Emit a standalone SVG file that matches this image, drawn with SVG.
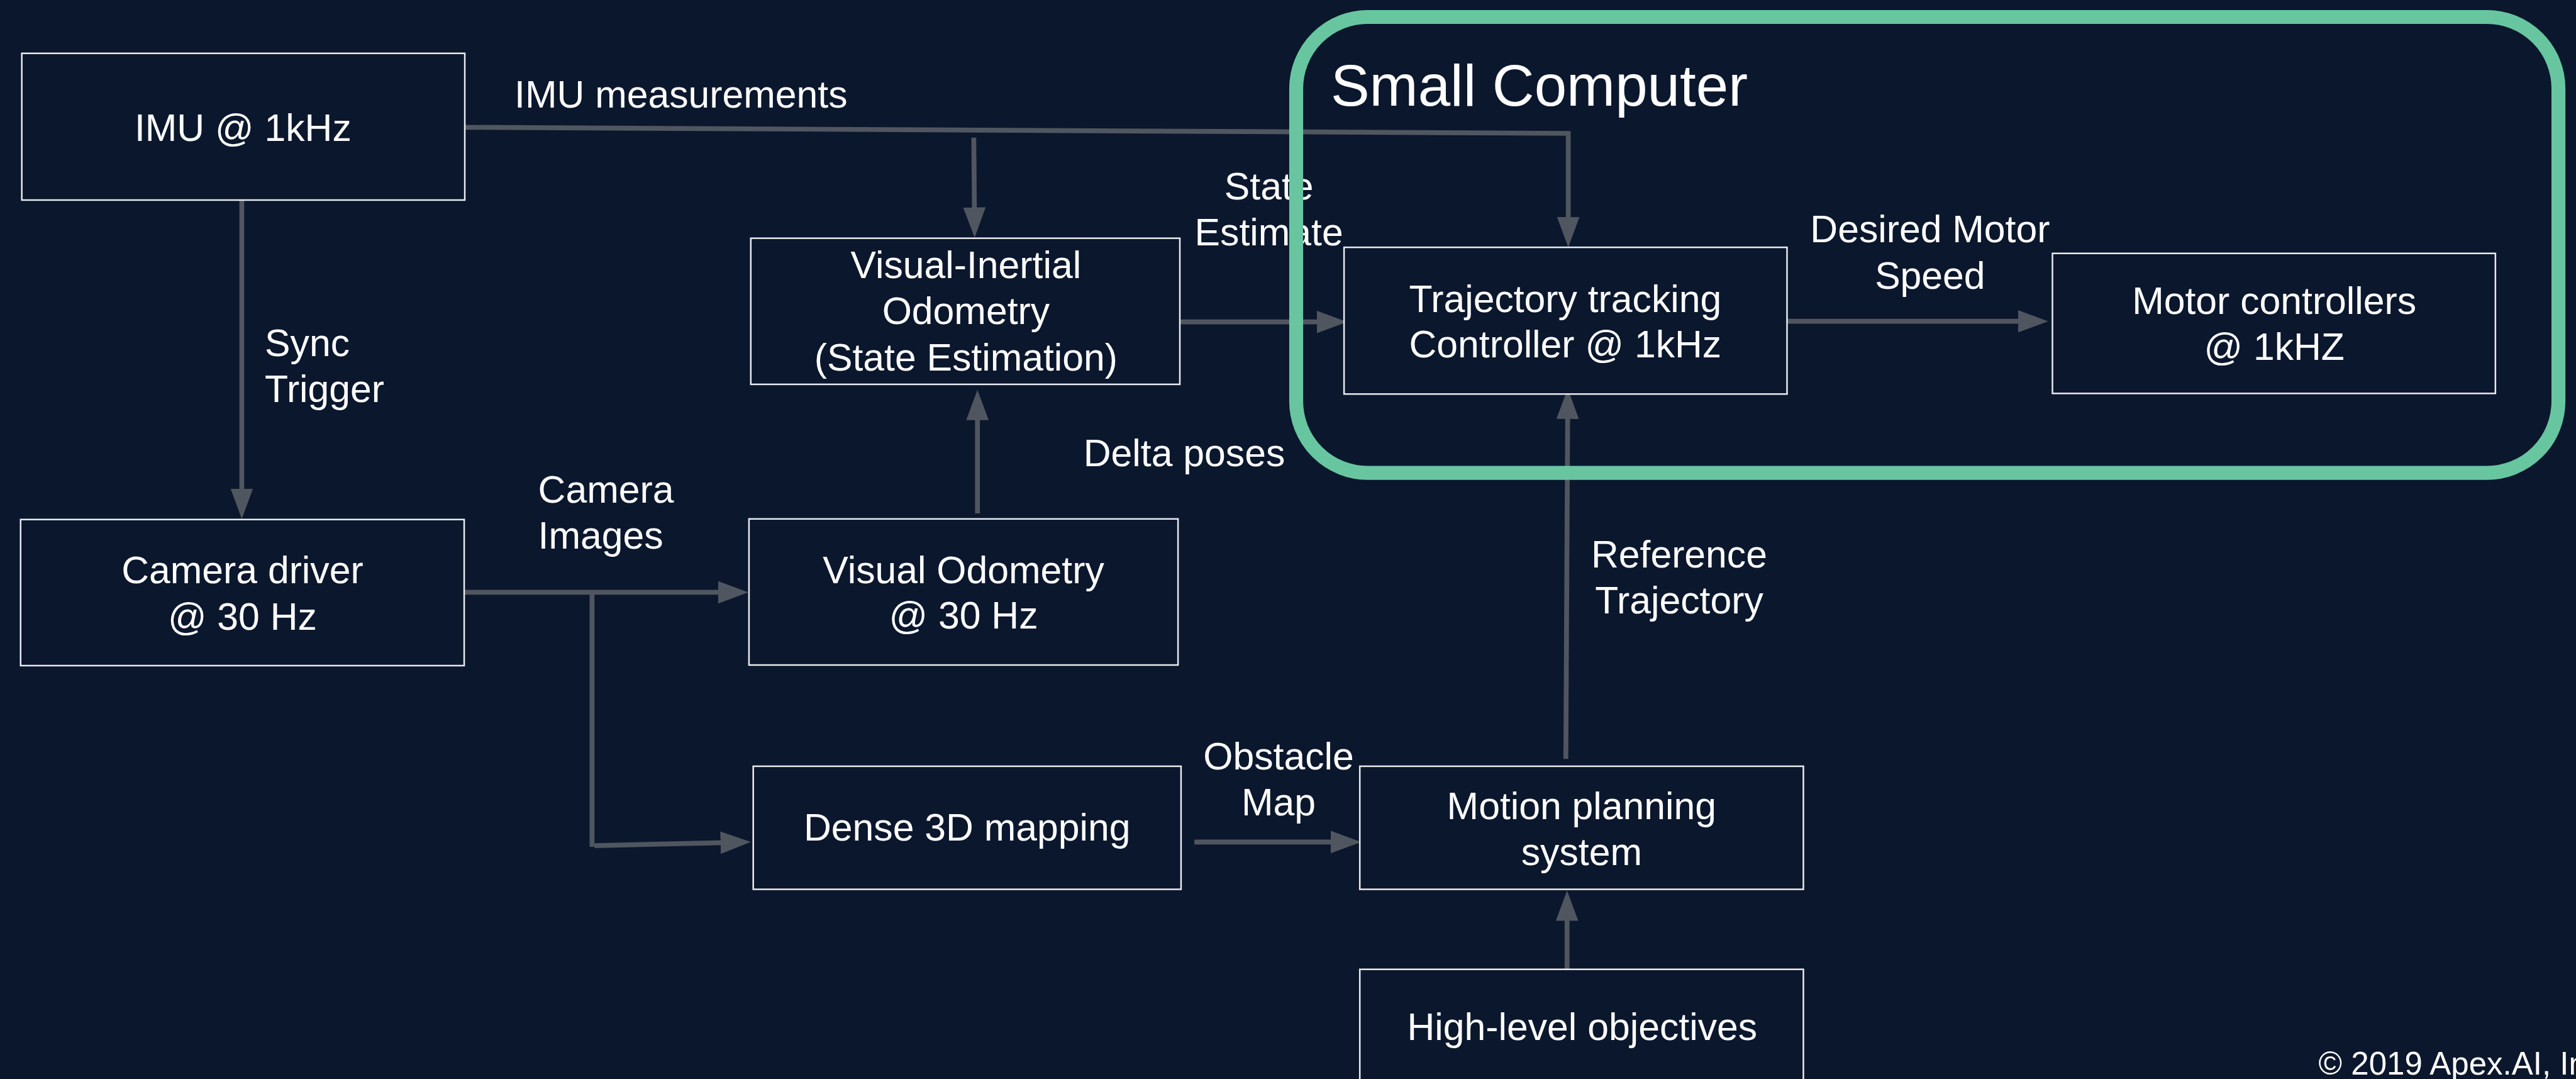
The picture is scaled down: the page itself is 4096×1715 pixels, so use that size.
<svg xmlns="http://www.w3.org/2000/svg" width="4096" height="1715" viewBox="0 0 4096 1715">
  <defs>
    <style>
      .box { fill: #0b172d; stroke: #e9ebee; stroke-width: 2.6; }
      .txt { font-family: "Liberation Sans", Arial, Helvetica, sans-serif; font-size: 63px; fill: #ffffff; }
      .mid { text-anchor: middle; }
      .wire { fill: none; stroke: #50565f; stroke-width: 8; }
      .arrow { marker-end: url(#head); }
      .group { fill: none; stroke: #67c6a0; stroke-width: 23; }
    </style>
    <marker id="head" markerUnits="userSpaceOnUse" markerWidth="50" markerHeight="38" viewBox="0 0 50 38" refX="5" refY="19" orient="auto">
      <path d="M0,0.5 L50,19 L0,37.5 Z" fill="#50565f"/>
    </marker>
  </defs>

  <rect x="0" y="0" width="4096" height="1715" fill="#0b172d"/>

  <g transform="scale(0.96354)">
    <!-- connectors -->
    <g id="connectors">
      <path class="wire arrow" d="M767,210 L2588,220 L2588,363"/>
      <path class="wire arrow" d="M1607,227 L1608,347"/>
      <path class="wire arrow" d="M399,330 L399,811"/>
      <path class="wire arrow" d="M766,977 L1190,977"/>
      <path class="wire" d="M977,977 L977,1397"/>
      <path class="wire arrow" d="M981,1395 L1194,1390"/>
      <path class="wire arrow" d="M1613,847 L1613,688"/>
      <path class="wire arrow" d="M1947,531 L2178,531"/>
      <path class="wire arrow" d="M2949,530 L3335,530"/>
      <path class="wire arrow" d="M1971,1389 L2201,1389"/>
      <path class="wire arrow" d="M2584,1252 L2587,686"/>
      <path class="wire arrow" d="M2586,1599 L2586,1514"/>
    </g>

    <!-- connector labels -->
    <g id="labels" class="txt">
      <text x="849" y="177">IMU measurements</text>
      <text x="437" y="587">Sync</text>
      <text x="437" y="663">Trigger</text>
      <text x="888" y="829">Camera</text>
      <text x="888" y="905">Images</text>
      <text class="mid" x="2094" y="329">State</text>
      <text class="mid" x="2094" y="405">Estimate</text>
      <text x="1788" y="769">Delta poses</text>
      <text class="mid" x="3185" y="400">Desired Motor</text>
      <text class="mid" x="3185" y="476">Speed</text>
      <text class="mid" x="2771" y="936">Reference</text>
      <text class="mid" x="2771" y="1012">Trajectory</text>
      <text class="mid" x="2110" y="1269">Obstacle</text>
      <text class="mid" x="2110" y="1345">Map</text>
    </g>

    <!-- nodes -->
    <g id="imu">
      <rect class="box" x="36" y="88" width="731" height="242"/>
      <text class="txt mid" x="401" y="232">IMU @ 1kHz</text>
    </g>
    <g id="camera-driver">
      <rect class="box" x="34" y="857" width="732" height="241"/>
      <text class="txt mid" x="400" y="962">Camera driver</text>
      <text class="txt mid" x="400" y="1039">@ 30 Hz</text>
    </g>
    <g id="visual-inertial-odometry">
      <rect class="box" x="1239" y="393" width="708" height="241"/>
      <text class="txt mid" x="1594" y="459">Visual-Inertial</text>
      <text class="txt mid" x="1594" y="535">Odometry</text>
      <text class="txt mid" x="1594" y="611">(State Estimation)</text>
    </g>
    <g id="visual-odometry">
      <rect class="box" x="1236" y="856" width="708" height="241"/>
      <text class="txt mid" x="1590" y="962">Visual Odometry</text>
      <text class="txt mid" x="1590" y="1037">@ 30 Hz</text>
    </g>
    <g id="dense-mapping">
      <rect class="box" x="1243" y="1264" width="706" height="203"/>
      <text class="txt mid" x="1596" y="1387">Dense 3D mapping</text>
    </g>
    <g id="trajectory-controller">
      <rect class="box" x="2218" y="408" width="731" height="242"/>
      <text class="txt mid" x="2583" y="515">Trajectory tracking</text>
      <text class="txt mid" x="2583" y="590">Controller @ 1kHz</text>
    </g>
    <g id="motor-controllers">
      <rect class="box" x="3387" y="418" width="731" height="231"/>
      <text class="txt mid" x="3753" y="518">Motor controllers</text>
      <text class="txt mid" x="3753" y="594">@ 1kHZ</text>
    </g>
    <g id="motion-planning">
      <rect class="box" x="2244" y="1264" width="732" height="203"/>
      <text class="txt mid" x="2610" y="1351">Motion planning</text>
      <text class="txt mid" x="2610" y="1427">system</text>
    </g>
    <g id="high-level-objectives">
      <rect class="box" x="2244" y="1599" width="732" height="260"/>
      <text class="txt mid" x="2611" y="1716">High-level objectives</text>
    </g>

    <!-- on-board computer boundary -->
    <g id="small-computer">
      <rect class="group" x="2139" y="28" width="2083" height="752" rx="118" ry="118"/>
      <text class="txt" x="2196" y="174" style="font-size:96px">Small Computer</text>
    </g>

    <text class="txt" x="3826" y="1773" style="font-size:53px">© 2019 Apex.AI, Inc.</text>
  </g>
</svg>
